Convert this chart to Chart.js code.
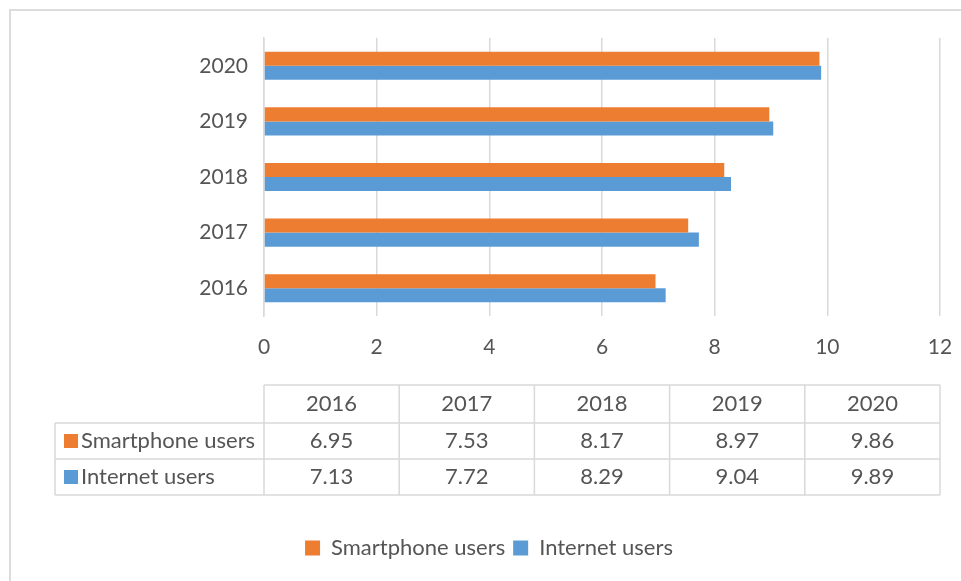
<!DOCTYPE html>
<html lang="en">
<head>
  <meta charset="UTF-8" />
  <title>Smartphone and Internet users</title>
  <script src="https://cdn.jsdelivr.net/npm/chart.js"></script>
  <style>
    html, body { margin: 0; padding: 0; background: #fff; overflow: hidden; }
    #frame {
      position: absolute; left: 9px; top: 9px;
      width: 1000px; height: 1000px;
      border: 2px solid #dcdcdc; box-sizing: border-box;
    }
    #wrap { position: absolute; left: 0; top: 0; width: 961px; height: 581px; }
  </style>
</head>
<body>
  <div id="frame"></div>
  <div id="wrap">
    <canvas id="usersChart" width="961" height="581"></canvas>
  </div>

  <script>
    const years = ['2016', '2017', '2018', '2019', '2020'];
    const smartphoneUsers = [6.95, 7.53, 8.17, 8.97, 9.86];
    const internetUsers = [7.13, 7.72, 8.29, 9.04, 9.89];
    const seriesNames = ['Smartphone users', 'Internet users'];

    const textColor = '#555555';
    const lineColor = '#d9d9d9';
    const fontFamily = 'Lato, "Open Sans", sans-serif';
    const orange = '#ED7D31';
    const blue = '#5B9BD5';

    // data table under the x axis, columns follow the x scale
    const dataTable = {
      id: 'dataTable',
      afterDraw(chart) {
        const ctx = chart.ctx;
        const xs = chart.scales.x;
        const left = xs.left, right = xs.right;
        const cw = (right - left) / years.length;
        const base = chart.chartArea.bottom;
        const y0 = base + 69, y1 = base + 107, y2 = base + 143, y3 = base + 179;
        const labelLeft = 55;

        ctx.save();
        ctx.strokeStyle = lineColor;
        ctx.lineWidth = 1.5;
        ctx.beginPath();
        ctx.moveTo(left, y0); ctx.lineTo(right, y0);
        [y1, y2, y3].forEach(y => { ctx.moveTo(labelLeft, y); ctx.lineTo(right, y); });
        ctx.moveTo(labelLeft, y1); ctx.lineTo(labelLeft, y3);
        for (let i = 0; i <= years.length; i++) {
          const x = left + i * cw;
          ctx.moveTo(x, y0); ctx.lineTo(x, y3);
        }
        ctx.stroke();

        ctx.fillStyle = textColor;
        ctx.font = '22px ' + fontFamily;
        ctx.textBaseline = 'middle';
        ctx.textAlign = 'center';
        years.forEach((yr, i) => ctx.fillText(yr, left + (i + 0.5) * cw, (y0 + y1) / 2));

        const rows = [
          { name: seriesNames[0], color: orange, values: smartphoneUsers, top: y1, bottom: y2 },
          { name: seriesNames[1], color: blue, values: internetUsers, top: y2, bottom: y3 }
        ];
        rows.forEach(r => {
          const cy = (r.top + r.bottom) / 2;
          ctx.textAlign = 'center';
          ctx.fillStyle = textColor;
          r.values.forEach((v, i) => ctx.fillText(v.toFixed(2), left + (i + 0.5) * cw, cy));
          ctx.fillStyle = r.color;
          ctx.fillRect(64, cy - 7, 14, 14);
          ctx.fillStyle = textColor;
          ctx.textAlign = 'left';
          ctx.fillText(r.name, 81, cy);
        });
        ctx.restore();
      }
    };

    const ctx = document.getElementById('usersChart').getContext('2d');
    new Chart(ctx, {
      type: 'bar',
      data: {
        labels: years,
        datasets: [
          { label: seriesNames[0], data: smartphoneUsers, backgroundColor: orange },
          { label: seriesNames[1], data: internetUsers, backgroundColor: blue }
        ]
      },
      options: {
        indexAxis: 'y',
        responsive: false,
        animation: false,
        categoryPercentage: 0.505,
        barPercentage: 1.0,
        layout: { padding: { top: 38, right: 21, left: 38, bottom: 12 } },
        scales: {
          x: {
            min: 0,
            max: 12,
            ticks: { stepSize: 2, color: textColor, padding: 0, font: { family: fontFamily, size: 21 } },
            // invisible tick marks keep the labels clear of the plot
            grid: { color: lineColor, lineWidth: 1.5, drawTicks: true, tickLength: 19, tickColor: 'rgba(0,0,0,0)' },
            border: { display: false },
            afterFit: scale => { scale.height = 213; }
          },
          y: {
            reverse: true,
            ticks: { color: textColor, padding: 16, font: { family: fontFamily, size: 21 } },
            grid: { display: false, drawTicks: false },
            border: { display: true, color: lineColor, width: 1.5 },
            afterFit: scale => { scale.width = 226; }
          }
        },
        plugins: {
          legend: {
            position: 'bottom',
            labels: {
              color: textColor,
              boxWidth: 15,
              boxHeight: 15,
              padding: 8,
              font: { family: fontFamily, size: 22 }
            }
          },
          tooltip: { enabled: false }
        }
      },
      plugins: [dataTable]
    });
  </script>
</body>
</html>
